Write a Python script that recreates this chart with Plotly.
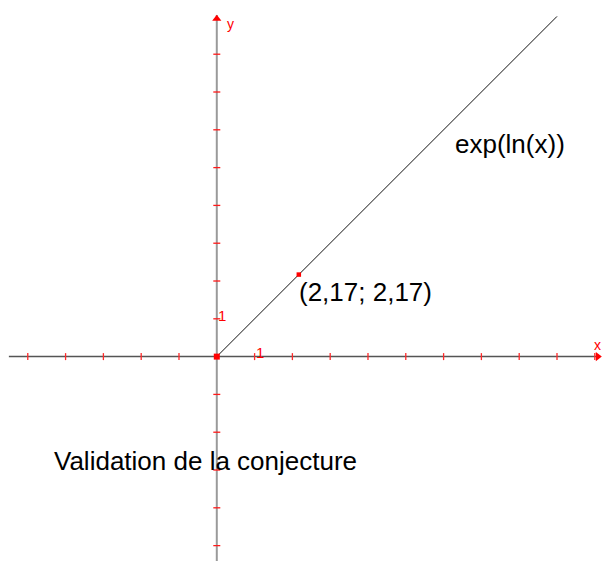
import numpy as np
import plotly.graph_objects as go

# Tick positions along each axis (unit = 1)
x_ticks = [-5, -4, -3, -2, -1, 1, 2, 3, 4, 5, 6, 7, 8, 9, 10]
y_ticks = [-5, -4, -3, -2, -1, 1, 2, 3, 4, 5, 6, 7, 8]

# Domain of the plotted function exp(ln(x))
curve_x = np.array([0.0, 9.0])
with np.errstate(divide="ignore"):
    curve_y = np.exp(np.log(curve_x))

# Point checked on the curve
point_x = 2.17
point_y = 2.17

# Window
x_range = [-5.735, 10.217]
y_range = [-5.407, 9.434]
x_axis_ext = [-5.50, 10.13]
y_axis_ext = [-5.50, 9.04]

RED = "#ff0000"
FONT = "Liberation Sans, Arial, Helvetica, sans-serif"


def fmt(v):
    return f"{v:g}".replace(".", ",")


fig = go.Figure()

# Axes
fig.add_trace(go.Scatter(x=[0, 0], y=y_axis_ext, mode="lines",
                         line=dict(color="#9a9a9a", width=2), hoverinfo="skip"))
fig.add_trace(go.Scatter(x=x_axis_ext, y=[0, 0], mode="lines",
                         line=dict(color="#555555", width=1.5), hoverinfo="skip"))

# Tick marks
fig.add_trace(go.Scatter(x=x_ticks, y=[0] * len(x_ticks), mode="markers",
                         marker=dict(symbol="line-ns", size=5,
                                     line=dict(color="#ff2a2a", width=1.3)),
                         hoverinfo="skip"))
fig.add_trace(go.Scatter(x=[0] * len(y_ticks), y=y_ticks, mode="markers",
                         marker=dict(symbol="line-ew", size=5,
                                     line=dict(color="#ff1a1a", width=1.3)),
                         hoverinfo="skip"))

# Arrow heads
fig.add_trace(go.Scatter(x=[0], y=[y_axis_ext[1] - 0.1], mode="markers",
                         marker=dict(symbol="triangle-up", size=8, color=RED),
                         hoverinfo="skip"))
fig.add_trace(go.Scatter(x=[x_axis_ext[1] - 0.05], y=[0], mode="markers",
                         marker=dict(symbol="triangle-right", size=8, color=RED),
                         hoverinfo="skip"))

# Curve y = exp(ln(x))
fig.add_trace(go.Scatter(x=curve_x, y=curve_y, mode="lines",
                         line=dict(color="#111111", width=1), hoverinfo="skip"))

# Origin and checked point
fig.add_trace(go.Scatter(x=[0], y=[0], mode="markers",
                         marker=dict(symbol="square", size=6, color=RED),
                         hoverinfo="skip"))
fig.add_trace(go.Scatter(x=[point_x], y=[point_y], mode="markers",
                         marker=dict(symbol="square", size=4.5, color=RED),
                         hoverinfo="skip"))

annotations = [
    dict(x=point_x, y=point_y, text=f"({fmt(point_x)}; {fmt(point_y)})",
         xanchor="left", yanchor="middle", xshift=-2, yshift=-17,
         font=dict(size=26, color="#000000", family=FONT)),
    dict(x=6.26, y=5.62, text="exp(ln(x))", xanchor="left", yanchor="middle",
         font=dict(size=26, color="#000000", family=FONT)),
    dict(x=-4.37, y=-2.76, text="Validation de la conjecture",
         xanchor="left", yanchor="middle",
         font=dict(size=26, color="#000000", family=FONT)),
    dict(x=1.156, y=0.11, text="1", xanchor="center", yanchor="middle",
         font=dict(size=15, color=RED, family=FONT)),
    dict(x=0.15, y=1.08, text="1", xanchor="center", yanchor="middle",
         font=dict(size=15, color=RED, family=FONT)),
    dict(x=0.35, y=8.81, text="y", xanchor="center", yanchor="middle",
         font=dict(size=14, color=RED, family=FONT)),
    dict(x=x_range[1], y=0.31, text="x", xanchor="right", yanchor="middle",
         font=dict(size=14, color=RED, family=FONT)),
]
for a in annotations:
    a.update(xref="x", yref="y", showarrow=False)

fig.update_layout(
    width=603, height=561,
    margin=dict(l=0, r=0, t=0, b=0),
    paper_bgcolor="white", plot_bgcolor="white",
    showlegend=False,
    xaxis=dict(range=x_range, visible=False, fixedrange=True),
    yaxis=dict(range=y_range, visible=False, fixedrange=True),
    annotations=annotations,
)

fig.write_html("out.html")
